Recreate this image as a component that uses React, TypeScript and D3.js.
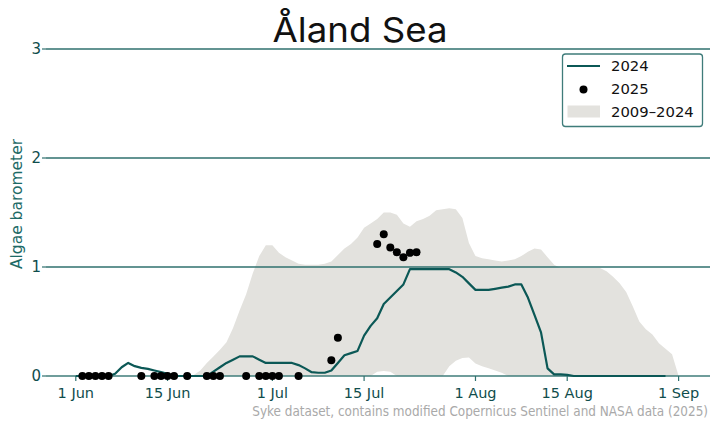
import React from "react";
import * as d3 from "d3";

// ---------- data ----------
const TITLE = "Åland Sea";
const Y_LABEL = "Algae barometer";
const SOURCE = "Syke dataset, contains modified Copernicus Sentinel and NASA data (2025)";
const LEGEND_LABELS = ["2024", "2025", "2009–2024"];

const X_TICKS = ["06-01", "06-15", "07-01", "07-15", "08-01", "08-15", "09-01"];
const Y_TICKS = [0, 1, 2, 3];

// 2024 line: daily values starting 1 Jun
const LINE_2024_START = "06-01";
const LINE_2024 = [
  0, 0, 0, 0, 0, 0, 0.02, 0.08, 0.12, 0.09,
  0.075, 0.065, 0.05, 0.035, 0.02, 0, 0, 0, 0, 0,
  0, 0.04, 0.08, 0.12, 0.15, 0.18, 0.18, 0.18, 0.15, 0.12,
  0.12, 0.12, 0.12, 0.12, 0.1, 0.07, 0.035, 0.03, 0.03, 0.05,
  0.12, 0.19, 0.21, 0.23, 0.37, 0.46, 0.53, 0.66, 0.72, 0.78,
  0.84, 0.98, 0.98, 0.98, 0.98, 0.98, 0.98, 0.98, 0.95, 0.91,
  0.85, 0.79, 0.79, 0.79, 0.8, 0.81, 0.82, 0.84, 0.84, 0.72,
  0.56, 0.4, 0.07, 0.015, 0.015, 0.01, 0, 0, 0, 0,
  0, 0, 0, 0, 0, 0, 0, 0, 0, 0, 0,
];

// 2025 observations
const DOTS_2025_DATES = [
  "06-02", "06-03", "06-04", "06-05", "06-06", "06-11", "06-13", "06-14", "06-15", "06-16",
  "06-18", "06-21", "06-22", "06-23", "06-27", "06-29", "06-30", "07-01", "07-02", "07-05",
  "07-10", "07-11", "07-17", "07-18", "07-19", "07-20", "07-21", "07-22", "07-23",
];
const DOTS_2025_VALUES = [
  0, 0, 0, 0, 0, 0, 0, 0, 0, 0,
  0, 0, 0, 0, 0, 0, 0, 0, 0, 0,
  0.145, 0.35, 1.21, 1.3, 1.18, 1.135, 1.09, 1.13, 1.135,
];

// 2009–2024 range: daily values starting 18 Jun
const BAND_START = "06-18";
const BAND_UPPER = [
  0, 0.01, 0.05, 0.12, 0.18, 0.24, 0.31, 0.44, 0.6, 0.75, 0.94,
  1.1, 1.2, 1.2, 1.13, 1.09, 1.06, 1.03, 1.02, 1.02, 1.02,
  1.03, 1.05, 1.11, 1.17, 1.21, 1.27, 1.36, 1.4, 1.44, 1.5,
  1.5, 1.48, 1.4, 1.37, 1.42, 1.44, 1.47, 1.52, 1.53, 1.54,
  1.53, 1.45, 1.22, 1.1, 1.08, 1.07, 1.06, 1.05, 1.06, 1.07,
  1.1, 1.14, 1.17, 1.16, 1.09, 1.02, 0.99, 0.99, 0.99, 0.99,
  0.99, 0.99, 0.99, 0.96, 0.91, 0.85, 0.77, 0.64, 0.5, 0.43,
  0.38, 0.3, 0.25, 0.2, 0,
];
const BAND_LOWER = [
  0, 0, 0, 0, 0, 0, 0, 0, 0, 0, 0,
  0, 0, 0, 0, 0, 0, 0, 0, 0, 0,
  0, 0, 0, 0, 0, 0, 0, 0, 0.04, 0.045,
  0.04, 0, 0, 0, 0, 0, 0, 0, 0, 0.09,
  0.14, 0.165, 0.17, 0.115, 0.09, 0.07, 0.05, 0.03, 0, 0,
  0, 0, 0, 0, 0, 0, 0, 0, 0, 0,
  0, 0, 0, 0, 0, 0, 0, 0, 0, 0,
  0, 0, 0, 0, 0,
];

// ---------- helpers ----------
const DAY = 864e5;
const md = (s: string) => {
  const [m, d] = s.split("-").map(Number);
  return new Date(Date.UTC(2024, m - 1, d));
};
const seq = (start: string, vals: number[]) =>
  vals.map((v, i) => ({ date: new Date(md(start).getTime() + i * DAY), v }));

const W = 720;
const H = 431;
const PLOT_L = 46;
const PLOT_R = 710;

const TEAL = "#0b5856";
const GRID = "#2f706e";
const TICK_TEXT = "#0f4d4c";
const FILL = "#e3e2de";

export default function App() {
  const x = d3.scaleUtc().domain([md("06-01"), md("09-01")]).range([75.8, 678.6]);
  const y = d3.scaleLinear().domain([0, 3]).range([376, 49]);

  const lineData = seq(LINE_2024_START, LINE_2024);
  const bandData = BAND_UPPER.map((u, i) => ({
    date: new Date(md(BAND_START).getTime() + i * DAY),
    u,
    l: BAND_LOWER[i],
  }));
  const dots = DOTS_2025_DATES.map((d, i) => ({ date: md(d), v: DOTS_2025_VALUES[i] }));

  const area = d3
    .area<any>()
    .x((d) => x(d.date))
    .y0((d) => y(d.l))
    .y1((d) => y(d.u));
  const line = d3
    .line<any>()
    .x((d) => x(d.date))
    .y((d) => y(d.v));
  const fmt = d3.utcFormat("%-d %b");

  return (
    <svg
      width={W}
      height={H}
      style={{ position: "fixed", left: 0, top: 0, background: "#fff" }}
    >
      <rect x={0} y={0} width={W} height={H} fill="#fff" />
      <path d={area(bandData) || ""} fill={FILL} />
      {/* grid lines */}
      {Y_TICKS.map((t) => (
        <g key={t}>
          <line
            x1={PLOT_L}
            x2={PLOT_R}
            y1={y(t)}
            y2={y(t)}
            stroke={t === 0 ? "#3f7c7a" : GRID}
            strokeWidth={1.4}
          />
          <line x1={PLOT_L - 4} x2={PLOT_L} y1={y(t)} y2={y(t)} stroke={GRID} strokeWidth={1.2} />
          <text
            x={PLOT_L - 5}
            y={y(t)}
            dy="0.36em"
            textAnchor="end"
            fontFamily="DejaVu Sans"
            fontSize={15}
            fill={TICK_TEXT}
          >
            {t}
          </text>
        </g>
      ))}
      {/* x ticks */}
      {X_TICKS.map((t) => {
        const xx = x(md(t));
        return (
          <g key={t}>
            <line x1={xx} x2={xx} y1={376} y2={381} stroke={GRID} strokeWidth={1.2} />
            <text
              x={xx}
              y={398}
              textAnchor="middle"
              fontFamily="DejaVu Sans"
              fontSize={14.5}
              fill={TICK_TEXT}
            >
              {fmt(md(t))}
            </text>
          </g>
        );
      })}
      <path d={line(lineData) || ""} fill="none" stroke={TEAL} strokeWidth={2.2} strokeLinejoin="round" />
      {dots.map((d, i) => (
        <circle key={i} cx={x(d.date)} cy={y(d.v)} r={4} fill="#000" />
      ))}
      {/* title */}
      <text
        x={360}
        y={42}
        textAnchor="middle"
        fontFamily="Inter, 'Open Sans', sans-serif"
        fontSize={34}
        fill="#111"
        textLength={175}
        lengthAdjust="spacingAndGlyphs"
      >
        {TITLE}
      </text>
      {/* y label */}
      <text
        transform={`translate(${22},${204}) rotate(-90)`}
        textAnchor="middle"
        fontFamily="DejaVu Sans"
        fontSize={15.5}
        fill="#1d6a66"
      >
        {Y_LABEL}
      </text>
      {/* source */}
      <text
        x={708}
        y={416}
        textAnchor="end"
        fontFamily="'DejaVu Sans Condensed', 'DejaVu Sans'"
        fontStretch="condensed"
        fontSize={13.4}
        fill="#a9a9a9"
      >
        {SOURCE}
      </text>
      {/* legend */}
      <g>
        <rect x={562.5} y={54} width={140} height={72.5} rx={3} fill="#fff" stroke="#3f7c7a" strokeWidth={1.3} />
        <line x1={567} x2={600} y1={66} y2={66} stroke={TEAL} strokeWidth={2.2} />
        <circle cx={583.5} cy={89.5} r={4} fill="#000" />
        <rect x={567.5} y={105.5} width={32.5} height={12} fill={FILL} />
        {LEGEND_LABELS.map((l, i) => (
          <text
            key={l}
            x={611}
            y={66 + i * 22.8}
            dy="0.36em"
            fontFamily="DejaVu Sans"
            fontSize={14.8}
            fill="#111"
          >
            {l}
          </text>
        ))}
      </g>
    </svg>
  );
}
